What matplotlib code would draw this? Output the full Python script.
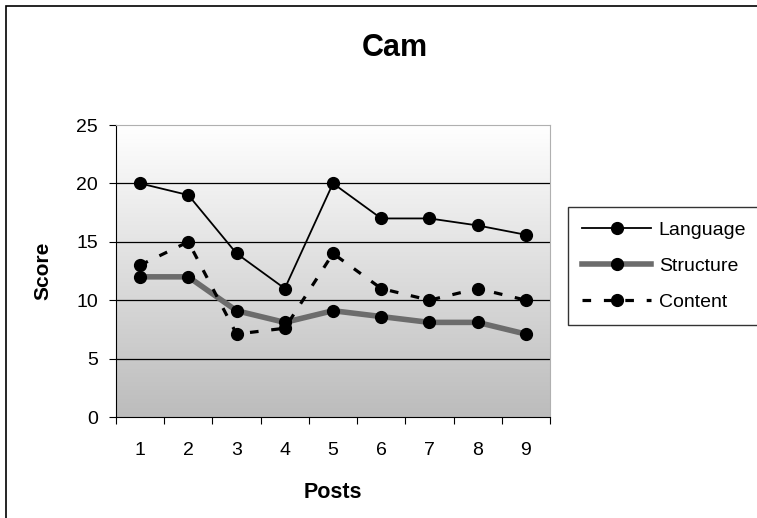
import matplotlib.pyplot as plt
import numpy as np
from matplotlib.patches import Rectangle
from matplotlib.colors import LinearSegmentedColormap

plt.rcParams['font.family'] = ['Liberation Sans', 'DejaVu Sans']

posts = [1, 2, 3, 4, 5, 6, 7, 8, 9]
language = [20, 19, 14, 11, 20, 17, 17, 16.4, 15.6]
structure = [12, 12, 9.1, 8.1, 9.1, 8.6, 8.1, 8.1, 7.1]
content = [13, 15, 7.1, 7.6, 14, 11, 10, 11, 10]

W, H = 757, 518
fig = plt.figure(figsize=(W / 100, H / 100), dpi=100, facecolor='white')

# outer chart border (right/bottom cut off in the original)
fig.add_artist(Rectangle((6 / W, -0.05), 1.1, (H - 6) / H + 0.05, transform=fig.transFigure,
                         fill=False, edgecolor='black', linewidth=1.2))

ax = fig.add_axes([116 / W, 1 - 417 / H, (550 - 116) / W, (417 - 125) / H])

# gradient background: white top -> grey bottom
grad = np.linspace(0, 1, 256).reshape(-1, 1)
cmap = LinearSegmentedColormap.from_list('g', ['#ffffff', '#bcbcbc'])
ax.imshow(grad, extent=[0.5, 9.5, 0, 25], aspect='auto', origin='upper', cmap=cmap, zorder=0)

for y in [5, 10, 15, 20]:
    ax.axhline(y, color='black', linewidth=0.9, zorder=1)

ax.plot(posts, language, color='black', linewidth=1.3, marker='o', markersize=8.5,
        label='Language', zorder=4)
ax.plot(posts, structure, color='#6c6c6c', linewidth=4, marker='o', markersize=8.5,
        markerfacecolor='black', markeredgecolor='black', label='Structure', zorder=3)
ax.plot(posts, content, color='black', linewidth=2.3, linestyle=(0, (2.7, 4)), marker='o',
        markersize=8.5, label='Content', zorder=3)

ax.set_xlim(0.5, 9.5)
ax.set_ylim(0, 25)
ax.set_xticks(np.arange(0.5, 10, 1))
ax.set_xticklabels([])
ax.set_xticks(posts, minor=True)
ax.set_xticklabels([str(p) for p in posts], minor=True, fontsize=14)
ax.tick_params(axis='x', which='minor', length=0, pad=18)
ax.tick_params(axis='x', which='major', length=5, direction='out')
ax.set_yticks([0, 5, 10, 15, 20, 25])
ax.set_yticklabels(['0', '5', '10', '15', '20', '25'], fontsize=14)
ax.tick_params(axis='y', length=5, direction='out', pad=8)

for s in ['top', 'right']:
    ax.spines[s].set_color('#b0b0b0')
for s in ['left', 'bottom']:
    ax.spines[s].set_color('black')

ax.set_xlabel('Posts', fontsize=15.5, fontweight='bold', va='center')
ax.xaxis.set_label_coords(0.5, (417 - 492) / 292)
ax.set_ylabel('Score', fontsize=15, fontweight='bold', va='center')
ax.yaxis.set_label_coords((43 - 116) / 434, 0.5)

fig.text(395 / W, 1 - 48 / H, 'Cam', ha='center', va='center', fontsize=22, fontweight='bold')

leg = fig.legend(loc='upper left', bbox_to_anchor=(568 / W, 0, 1.0, 1 - 207 / H), mode='expand',
                 fontsize=14, frameon=True, fancybox=False, edgecolor='black', borderpad=0.72,
                 handlelength=3.55, handletextpad=0.4, labelspacing=0.95, borderaxespad=0)
leg.get_frame().set_linewidth(1.0)

fig.savefig('out.png', dpi=100, facecolor='white')
